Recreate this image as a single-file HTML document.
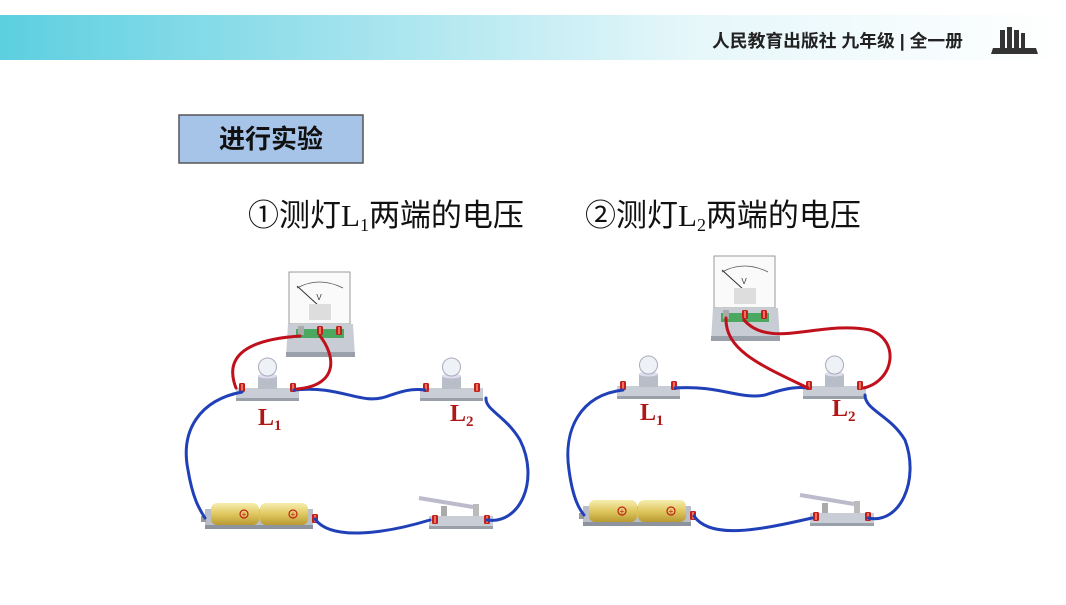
<!DOCTYPE html>
<html><head><meta charset="utf-8"><style>
body{margin:0;width:1066px;height:600px;overflow:hidden;background:#fff;font-family:"Liberation Sans","Noto Sans CJK SC",sans-serif}
</style></head><body>
<svg width="1066" height="600" viewBox="0 0 1066 600" xmlns="http://www.w3.org/2000/svg">
<defs>
<linearGradient id="hg" x1="0" x2="1" y1="0" y2="0">
<stop offset="0" stop-color="#5ccfe0"/><stop offset="0.35" stop-color="#a6e4ee"/><stop offset="0.65" stop-color="#e6f7fa"/><stop offset="1" stop-color="#fff"/></linearGradient>
<linearGradient id="yel" x1="0" x2="0" y1="0" y2="1"><stop offset="0" stop-color="#f6eeb0"/><stop offset="0.5" stop-color="#e0c860"/><stop offset="1" stop-color="#b89a30"/></linearGradient>
<g id="term"><rect x="-3" y="-5" width="6" height="9" rx="1.5" fill="#c0201c"/><rect x="-1" y="-4" width="2" height="7" fill="#f07060"/></g>
<g id="lamp">
<rect x="0" y="0" width="63" height="12" fill="#c9cdd6"/><rect x="0" y="10" width="63" height="3" fill="#9aa0aa"/>
<rect x="22" y="-12" width="19" height="13" fill="#b8bec8"/><ellipse cx="31.5" cy="-12" rx="9.5" ry="2.5" fill="#dde"/>
<circle cx="31.5" cy="-21" r="9" fill="#eef2f6" stroke="#aab" stroke-width="1"/>
<use href="#term" x="6" y="0"/><use href="#term" x="57" y="0"/>
</g>
<g id="vm">
<rect x="0" y="0" width="61" height="52" fill="#fafafa" stroke="#999"/>
<path d="M8 16 Q30 4 54 16" fill="none" stroke="#555" stroke-width="0.8"/>
<text x="30" y="28" font-size="8" text-anchor="middle" fill="#333">V</text>
<line x1="8" y1="14" x2="30" y2="34" stroke="#333" stroke-width="1"/>
<rect x="20" y="32" width="22" height="16" fill="#ddd"/>
<path d="M-1 52 H64 L66 85 H-3 Z" fill="#c8ccd4"/><rect x="-3" y="80" width="69" height="5" fill="#9aa0aa"/>
<rect x="7" y="57" width="48" height="9" fill="#4aa860"/>
<rect x="9" y="54" width="6" height="9" fill="#aaa"/>
<use href="#term" x="31" y="59"/><use href="#term" x="50" y="59"/>
</g>
<g id="bat">
<rect x="0" y="6" width="108" height="20" fill="#b9bec8"/><rect x="0" y="22" width="108" height="4" fill="#8e949e"/>
<rect x="6" y="0" width="48" height="22" rx="6" fill="url(#yel)"/><rect x="55" y="0" width="48" height="22" rx="6" fill="url(#yel)"/>
<circle cx="39" cy="11" r="4" fill="none" stroke="#c0201c" stroke-width="1.2"/><text x="39" y="14" font-size="8" fill="#c0201c" text-anchor="middle">+</text>
<circle cx="88" cy="11" r="4" fill="none" stroke="#c0201c" stroke-width="1.2"/><text x="88" y="14" font-size="8" fill="#c0201c" text-anchor="middle">+</text>
<rect x="-4" y="13" width="5" height="6" fill="#999"/><use href="#term" x="110" y="16"/>
</g>
<g id="sw">
<rect x="0" y="4" width="64" height="12" fill="#c9cdd6"/><rect x="0" y="14" width="64" height="3" fill="#9aa0aa"/>
<rect x="12" y="-6" width="6" height="10" fill="#aaa"/>
<line x1="-10" y1="-14" x2="44" y2="-5" stroke="#bbc" stroke-width="4"/>
<rect x="44" y="-8" width="6" height="12" fill="#bbb"/>
<use href="#term" x="6" y="8"/><use href="#term" x="58" y="8"/>
</g>
</defs>
<rect x="0" y="15" width="1066" height="45" fill="url(#hg)"/>
<text x="712" y="47" font-size="17.8" font-weight="bold" fill="#222">人民教育出版社 九年级 | 全一册</text>
<g fill="#333"><rect x="1000" y="30" width="5" height="18"/><rect x="1007" y="27" width="5" height="21"/><rect x="1014" y="30" width="5" height="18"/><rect x="1021" y="33" width="4" height="15"/><path d="M993 48 H1036 L1038 54 H991 Z"/></g>
<rect x="179" y="115" width="184" height="48" fill="#a6c4e8" stroke="#555" stroke-width="1.5"/>
<text x="271" y="148" font-size="26" font-weight="bold" text-anchor="middle" fill="#111">进行实验</text>
<text x="248" y="226" font-size="31" fill="#111">①测灯<tspan font-family="Liberation Serif">L</tspan><tspan font-family="Liberation Serif" font-size="18" dy="5">1</tspan><tspan dy="-5">两端的电压</tspan></text>
<text x="585" y="226" font-size="31" fill="#111">②测灯<tspan font-family="Liberation Serif">L</tspan><tspan font-family="Liberation Serif" font-size="18" dy="5">2</tspan><tspan dy="-5">两端的电压</tspan></text>
<!-- circuit 1 -->
<use href="#vm" x="289" y="272"/><use href="#lamp" x="236" y="388"/><use href="#lamp" x="420" y="388"/>
<use href="#bat" x="205" y="503"/><use href="#sw" x="429" y="512"/>
<g fill="none" stroke-width="3" stroke-linecap="round">
<path d="M242 392 C200 400 180 430 188 470 C193 500 200 510 205 518" stroke="#2040b8"/>
<path d="M315 519 C330 540 380 535 430 520" stroke="#2040b8"/>
<path d="M487 520 C520 525 540 480 520 440 C505 415 485 410 486 398" stroke="#2040b8"/>
<path d="M294 390 C340 385 360 405 385 397 C400 392 410 388 425 390" stroke="#2040b8"/>
<path d="M300 336 C240 340 225 360 236 388" stroke="#c0101c"/>
<path d="M320 336 C335 355 340 385 297 389" stroke="#c0101c"/>
</g>
<text x="258" y="425" font-family="Liberation Serif" font-size="24" font-weight="bold" fill="#b01818">L<tspan font-size="15" dy="5">1</tspan></text>
<text x="450" y="421" font-family="Liberation Serif" font-size="24" font-weight="bold" fill="#b01818">L<tspan font-size="15" dy="5">2</tspan></text>
<!-- circuit 2 -->
<use href="#vm" x="714" y="256"/><use href="#lamp" x="617" y="386"/><use href="#lamp" x="803" y="386"/>
<use href="#bat" x="583" y="500"/><use href="#sw" x="810" y="509"/>
<g fill="none" stroke-width="3" stroke-linecap="round">
<path d="M623 390 C580 395 563 430 569 470 C573 500 580 510 584 515" stroke="#2040b8"/>
<path d="M694 516 C710 540 760 530 812 518" stroke="#2040b8"/>
<path d="M868 518 C900 525 920 480 905 440 C890 415 865 410 865 395" stroke="#2040b8"/>
<path d="M675 388 C720 385 740 400 765 395 C780 390 795 386 808 388" stroke="#2040b8"/>
<path d="M726 318 C725 350 760 365 808 388" stroke="#c0101c"/>
<path d="M744 320 C770 350 820 320 870 330 C900 340 895 380 864 388" stroke="#c0101c"/>
</g>
<text x="640" y="420" font-family="Liberation Serif" font-size="24" font-weight="bold" fill="#b01818">L<tspan font-size="15" dy="5">1</tspan></text>
<text x="832" y="416" font-family="Liberation Serif" font-size="24" font-weight="bold" fill="#b01818">L<tspan font-size="15" dy="5">2</tspan></text>
</svg>
</body></html>
